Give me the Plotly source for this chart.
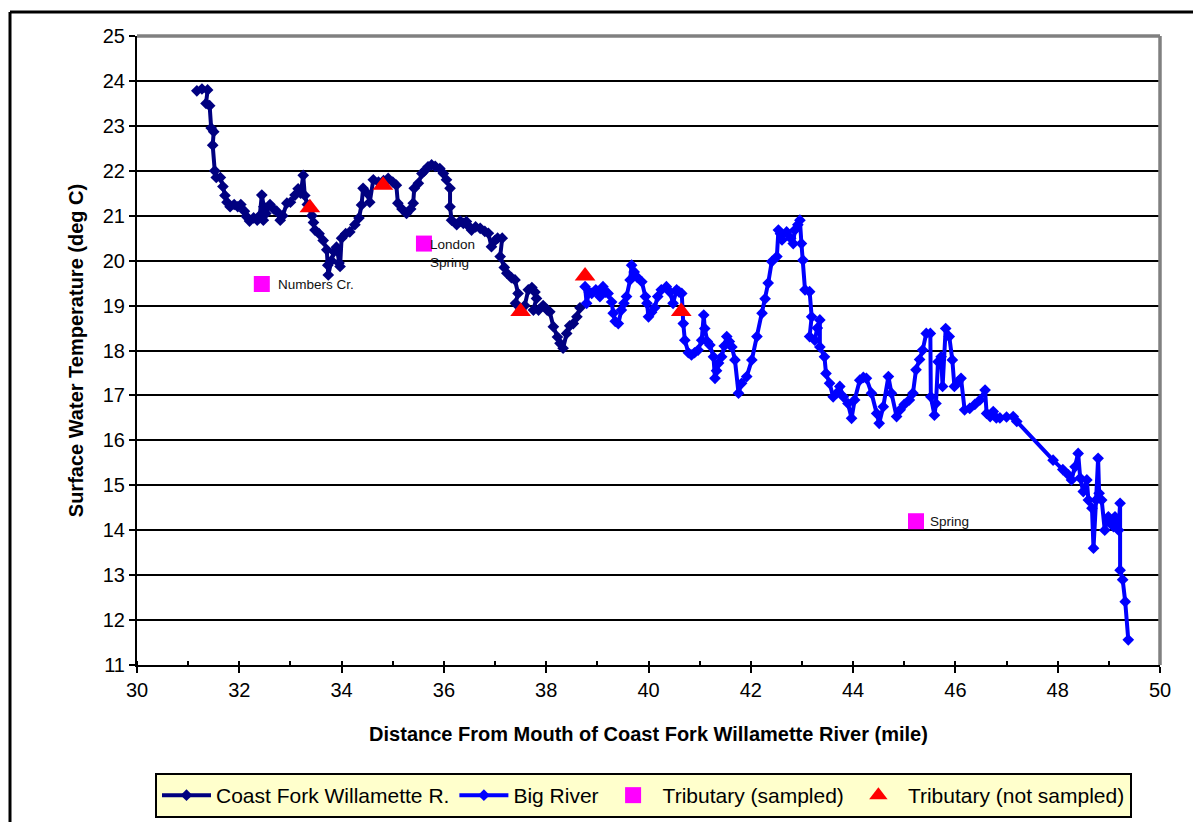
import plotly.graph_objects as go

# Coast Fork Willamette R. (navy)
cf_mile = [31.17, 31.27, 31.38, 31.35, 31.42, 31.45, 31.5, 31.48, 31.52, 31.55, 31.63, 31.68, 31.72,
           31.76, 31.82, 31.9, 31.97, 32.03, 32.1, 32.14, 32.2, 32.28, 32.35, 32.4, 32.44, 32.48, 32.47,
           32.52, 32.6, 32.67, 32.73, 32.8, 32.85, 32.93, 33.0, 33.09, 33.15, 33.2, 33.25, 33.28, 33.33,
           33.42, 33.45, 33.48, 33.56, 33.64, 33.71, 33.73, 33.74, 33.8, 33.85, 33.9, 33.95, 33.97, 34.0,
           34.08, 34.16, 34.26, 34.34, 34.39, 34.42, 34.5, 34.55, 34.62, 34.72, 34.82, 34.91, 35.0, 35.07,
           35.1, 35.18, 35.27, 35.35, 35.4, 35.42, 35.5, 35.57, 35.62, 35.69, 35.76, 35.83, 35.92, 35.99,
           36.05, 36.12, 36.12, 36.15, 36.25, 36.32, 36.38, 36.44, 36.5, 36.54, 36.62, 36.71, 36.8, 36.87,
           36.93, 37.0, 37.05, 37.14, 37.1, 37.18, 37.23, 37.32, 37.39, 37.45, 37.4, 37.5, 37.58, 37.65,
           37.72, 37.78, 37.81, 37.75, 37.85, 37.94, 38.02, 38.07, 38.14, 38.22, 38.27, 38.33, 38.4, 38.46,
           38.53, 38.6, 38.66]
cf_temp = [23.78, 23.82, 23.8, 23.5, 23.45, 22.95, 22.87, 22.57, 22.0, 21.85, 21.85, 21.65, 21.45,
           21.3, 21.2, 21.25, 21.2, 21.25, 21.1, 20.98, 20.88, 20.95, 20.9, 21.0, 21.46, 21.2, 20.9,
           21.05, 21.25, 21.15, 21.1, 20.9, 21.0, 21.28, 21.3, 21.46, 21.6, 21.5, 21.9, 21.45, 21.25,
           21.0, 20.85, 20.68, 20.6, 20.45, 20.24, 19.9, 19.68, 20.0, 20.2, 20.3, 19.95, 19.87, 20.5,
           20.6, 20.64, 20.8, 20.95, 21.24, 21.61, 21.5, 21.3, 21.8, 21.75, 21.78, 21.83, 21.75, 21.68,
           21.28, 21.15, 21.05, 21.15, 21.28, 21.61, 21.72, 21.94, 22.0, 22.09, 22.13, 22.1, 22.05, 21.94,
           21.8, 21.61, 21.2, 20.9, 20.8, 20.88, 20.83, 20.87, 20.75, 20.68, 20.75, 20.72, 20.65, 20.61,
           20.31, 20.45, 20.5, 20.5, 20.09, 19.85, 19.72, 19.62, 19.57, 19.27, 19.05, 18.9, 19.0, 19.35,
           19.4, 19.3, 19.16, 18.9, 18.9, 19.0, 18.9, 18.86, 18.53, 18.3, 18.16, 18.05, 18.38, 18.55,
           18.6, 18.75, 18.95]

# Big River (blue)
br_mile = [38.76, 38.79, 38.84, 38.89, 38.97, 39.05, 39.11, 39.16, 39.21, 39.28, 39.31, 39.35, 39.41,
           39.47, 39.52, 39.57, 39.64, 39.67, 39.72, 39.77, 39.87, 39.94, 39.97, 40.0, 40.06, 40.12,
           40.18, 40.25, 40.35, 40.42, 40.48, 40.55, 40.6, 40.65, 40.68, 40.71, 40.78, 40.84, 40.9,
           40.97, 41.04, 41.08, 41.1, 41.15, 41.2, 41.27, 41.3, 41.33, 41.37, 41.43, 41.48, 41.53, 41.58,
           41.63, 41.69, 41.76, 41.82, 41.92, 42.02, 42.12, 42.22, 42.28, 42.34, 42.41, 42.51, 42.54,
           42.58, 42.61, 42.7, 42.78, 42.83, 42.86, 42.92, 42.96, 42.99, 43.02, 43.06, 43.15, 43.19,
           43.15, 43.25, 43.3, 43.35, 43.35, 43.44, 43.47, 43.54, 43.61, 43.68, 43.74, 43.81, 43.9,
           43.97, 44.03, 44.13, 44.2, 44.26, 44.36, 44.46, 44.51, 44.59, 44.69, 44.75, 44.85, 44.92,
           45.0, 45.1, 45.17, 45.23, 45.3, 45.36, 45.43, 45.51, 45.52, 45.59, 45.62, 45.66, 45.72, 45.75,
           45.81, 45.88, 45.94, 45.98, 46.05, 46.11, 46.18, 46.28, 46.38, 46.48, 46.58, 46.61, 46.68,
           46.74, 46.8, 46.87, 47.0, 47.13, 47.2, 47.91, 48.1, 48.21, 48.27, 48.34, 48.4, 48.44, 48.5,
           48.57, 48.6, 48.67, 48.7, 48.75, 48.79, 48.81, 48.86, 48.92, 48.99, 49.05, 49.09, 49.12,
           49.19, 49.22, 49.22, 49.27, 49.32, 49.38]
br_temp = [19.42, 19.05, 19.3, 19.27, 19.35, 19.2, 19.42, 19.3, 19.27, 19.08, 18.83, 18.65, 18.6,
           18.9, 19.05, 19.2, 19.57, 19.9, 19.75, 19.64, 19.53, 19.2, 19.05, 18.75, 18.85, 18.95,
           19.2, 19.35, 19.42, 19.3, 19.05, 19.35, 19.3, 19.27, 18.6, 18.23, 17.95, 17.9, 17.95,
           18.01, 18.23, 18.79, 18.49, 18.2, 18.12, 17.86, 17.38, 17.55, 17.72, 17.86, 18.1, 18.31, 18.2,
           18.08, 17.79, 17.05, 17.27, 17.42, 17.79, 18.31, 18.83, 19.15, 19.5, 19.98, 20.09, 20.68,
           20.6, 20.46, 20.64, 20.5, 20.38, 20.68, 20.8, 20.9, 20.38, 20.01, 19.35, 19.31, 18.75,
           18.31, 18.23, 18.5, 18.68, 18.08, 17.86, 17.49, 17.27, 16.97, 17.05, 17.2, 16.97, 16.82,
           16.49, 16.9, 17.34, 17.4, 17.38, 17.05, 16.6, 16.38, 16.75, 17.42, 17.05, 16.53, 16.68,
           16.8, 16.9, 17.05, 17.57, 17.8, 18.01, 18.38, 18.38, 16.97, 16.56, 16.82, 17.75, 17.86, 17.2,
           18.49, 18.31, 17.79, 17.2, 17.3, 17.38, 16.68, 16.71, 16.8, 16.9, 17.12, 16.6, 16.53,
           16.64, 16.5, 16.5, 16.52, 16.53, 16.42, 15.56, 15.35, 15.23, 15.12, 15.41, 15.71, 15.16, 14.86,
           15.12, 14.67, 14.49, 13.6, 14.67, 15.6, 14.82, 14.67, 14.0, 14.3, 14.15, 14.08, 14.3,
           14.0, 14.6, 13.11, 12.9, 12.41, 11.56]

# Tributaries
sampled_mile = [32.44, 35.61, 45.23]
sampled_temp = [19.48, 20.38, 14.2]
sampled_names = ["Numbers Cr.", "London<br>Spring", "Spring"]

unsampled_mile = [33.38, 34.81, 37.5, 38.76, 40.64]
unsampled_temp = [21.18, 21.68, 18.87, 19.66, 18.87]

# page has an 8px body margin, so the figure starts at (8, 8)
OFF = 8
W, H = 1193, 814
L, R, T, B = 129, 41, 28, 157
PW, PH = W - L - R, H - T - B


def px_x(p):
    return (p - OFF - L) / PW


def px_y(p):
    return (H + OFF - B - p) / PH


fig = go.Figure()

fig.add_trace(go.Scatter(
    x=cf_mile, y=cf_temp, mode="lines+markers", name="Coast Fork Willamette R.",
    line=dict(color="#000080", width=4),
    marker=dict(symbol="diamond", size=9, color="#000080")
))
fig.add_trace(go.Scatter(
    x=br_mile, y=br_temp, mode="lines+markers", name="Big River",
    line=dict(color="#0000FF", width=4),
    marker=dict(symbol="diamond", size=9, color="#0000FF")
))
fig.add_trace(go.Scatter(
    x=sampled_mile, y=sampled_temp, mode="markers", name="Tributary (sampled)",
    marker=dict(symbol="square", size=16, color="#FF00FF")
))
fig.add_trace(go.Scatter(
    x=unsampled_mile, y=unsampled_temp, mode="markers", name="Tributary (not sampled)",
    marker=dict(symbol="triangle-up", size=18, color="#FF0000")
))

# labels next to sampled tributaries
label_dx = [0.27, 0.08, 0.23]
label_dy = [0.0, -0.22, 0.0]
for xm, yt, name, dx, dy in zip(sampled_mile, sampled_temp, sampled_names, label_dx, label_dy):
    fig.add_annotation(x=xm + dx, y=yt + dy, text=name, showarrow=False,
                       xanchor="left", yanchor="middle", align="left",
                       font=dict(size=13.5, color="#111111"))

# plot-area border (gray top/right) and figure frame
fig.add_shape(type="line", xref="paper", yref="paper", x0=0, x1=1, y0=1, y1=1,
              line=dict(color="#808080", width=3.5))
fig.add_shape(type="line", xref="paper", yref="paper", x0=1, x1=1, y0=0, y1=1,
              line=dict(color="#808080", width=3.5))
fig.add_shape(type="line", xref="paper", yref="paper",
              x0=px_x(10), x1=px_x(1215), y0=px_y(12), y1=px_y(12),
              line=dict(color="black", width=3))
fig.add_shape(type="line", xref="paper", yref="paper",
              x0=px_x(10), x1=px_x(10), y0=px_y(12), y1=px_y(840),
              line=dict(color="black", width=3))

fig.update_layout(
    width=W, height=H,
    margin=dict(l=L, r=R, t=T, b=B, autoexpand=False),
    paper_bgcolor="white", plot_bgcolor="white",
    font=dict(family="Liberation Sans, Arial, sans-serif", color="black"),
    showlegend=True,
    legend=dict(
        orientation="h", x=px_x(155), y=px_y(773), xanchor="left", yanchor="top",
        bgcolor="#FFFFCC", bordercolor="black", borderwidth=2,
        font=dict(size=21), itemwidth=49, tracegroupgap=0
    )
)

fig.update_xaxes(
    range=[30, 50], dtick=2, tick0=30,
    showgrid=False, zeroline=False,
    showline=True, linecolor="black", linewidth=2,
    ticks="outside", ticklen=6, tickwidth=1.5, tickcolor="black",
    minor=dict(dtick=1, ticks="inside", ticklen=4, tickwidth=1.5, tickcolor="black"),
    tickfont=dict(size=20),
    title=dict(text="<b>Distance From Mouth of Coast Fork Willamette River (mile)</b>",
               font=dict(size=20), standoff=27)
)
fig.update_yaxes(
    range=[11, 25], dtick=1,
    showgrid=True, gridcolor="black", gridwidth=1.5, zeroline=False,
    showline=True, linecolor="black", linewidth=2,
    ticks="outside", ticklen=6, tickwidth=1.5, tickcolor="black",
    tickfont=dict(size=20),
    title=dict(text="<b>Surface Water Temperature (deg C)</b>",
               font=dict(size=20), standoff=14)
)

fig.write_html("out.html")
